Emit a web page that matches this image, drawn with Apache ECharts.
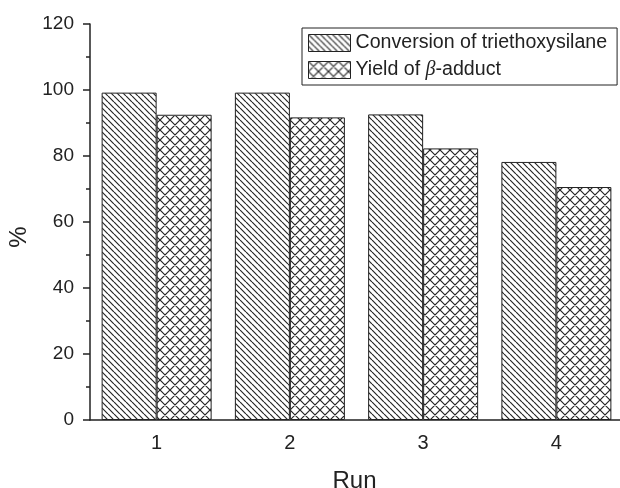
<!DOCTYPE html>
<html>
<head>
<meta charset="utf-8">
<script src="https://cdn.jsdelivr.net/npm/echarts@6/dist/echarts.min.js"></script>
<style>
  html, body { margin: 0; padding: 0; background: #fff; }
  #chart { width: 620px; height: 488px; }
</style>
</head>
<body>
<div id="chart"></div>
<script>
'use strict'

const runs = ['1', '2', '3', '4'];
const conversion = [99.2, 99.2, 92.6, 78.2];
const yieldBeta = [92.5, 91.7, 82.3, 70.6];
const yTicks = { min: 0, max: 120, step: 20 };

const ink = '#222';
const font = 'Liberation Sans, Arial, sans-serif';

// hatch fills drawn on small canvases and tiled
function hatch(size, both)
{
    const c = document.createElement('canvas');
    c.width = size;
    c.height = size;
    const g = c.getContext('2d');
    g.fillStyle = '#fff';
    g.fillRect(0, 0, size, size);
    g.strokeStyle = '#262626';
    g.lineWidth = 1.2;
    g.beginPath();
    for (let k = -1; k <= 1; k++) {
        g.moveTo(k * size, 0);
        g.lineTo(k * size + size, size);
        if (both) {
            g.moveTo(k * size + size, 0);
            g.lineTo(k * size, size);
        }
    }
    g.stroke();
    return { image: c, repeat: 'repeat' };
}

const chart = echarts.init(document.getElementById('chart'));

const option = {
    animation: false,
    backgroundColor: '#fff',
    textStyle: { fontFamily: font, color: ink },
    grid: { left: 90, top: 24, width: 533, height: 396, containLabel: false, outerBoundsMode: 'none' },
    legend: {
        orient: 'vertical',
        left: 302,
        top: 28,
        padding: [5, 10, 5, 6],
        itemWidth: 42,
        itemHeight: 17,
        itemGap: 7,
        borderColor: ink,
        borderWidth: 1,
        borderRadius: 0,
        icon: 'rect',
        itemStyle: { borderWidth: 1 },
        textStyle: {
            fontSize: 19.6,
            color: ink,
            fontFamily: font,
            rich: {
                n: { fontSize: 19.6, fontFamily: font, color: ink },
                b: { fontSize: 20, fontFamily: 'Liberation Serif, Times New Roman, serif', fontStyle: 'italic', color: ink }
            }
        },
        formatter: function (name) {
            if (name.indexOf('Yield') === 0) return '{n|Yield of }{b|β}{n|-adduct}';
            return name;
        },
        data: ['Conversion of triethoxysilane', 'Yield of β-adduct']
    },
    xAxis: [
        {
            type: 'category',
            data: runs,
            name: 'Run',
            nameLocation: 'middle',
            nameGap: 49,
            nameTextStyle: { fontSize: 24, color: ink, fontFamily: font, padding: [0, 4, 0, 0] },
            axisLine: { lineStyle: { color: ink, width: 1.5 } },
            axisTick: { alignWithLabel: true, length: 7, lineStyle: { color: ink, width: 1.5 } },
            axisLabel: { fontSize: 20, color: ink, margin: 13 }
        },
        {
            type: 'category',
            data: runs,
            position: 'bottom',
            axisLine: { show: false },
            axisTick: { length: 4, lineStyle: { color: ink, width: 1.5 } },
            axisLabel: { show: false }
        }
    ],
    yAxis: {
        type: 'value',
        min: yTicks.min,
        max: yTicks.max,
        interval: yTicks.step,
        name: '%',
        nameLocation: 'middle',
        nameGap: 57,
        nameTextStyle: { fontSize: 24, color: ink, fontFamily: font, padding: [0, 30, 0, 0] },
        axisLine: { show: true, lineStyle: { color: ink, width: 1.5 } },
        axisTick: { show: true, length: 7, lineStyle: { color: ink, width: 1.5 } },
        minorTick: { show: true, splitNumber: 2, length: 4, lineStyle: { color: ink, width: 1.5 } },
        splitLine: { show: false },
        axisLabel: { fontSize: 19, color: ink, margin: 16 }
    },
    series: [
        {
            name: 'Conversion of triethoxysilane',
            type: 'bar',
            data: conversion,
            barWidth: 55,
            barGap: '0%',
            itemStyle: { color: hatch(6, false), borderColor: ink, borderWidth: 1 }
        },
        {
            name: 'Yield of β-adduct',
            type: 'bar',
            data: yieldBeta,
            barWidth: 55,
            barGap: '0%',
            itemStyle: { color: hatch(10, true), borderColor: ink, borderWidth: 1 }
        }
    ]
};

chart.setOption(option);
</script>
</body>
</html>
